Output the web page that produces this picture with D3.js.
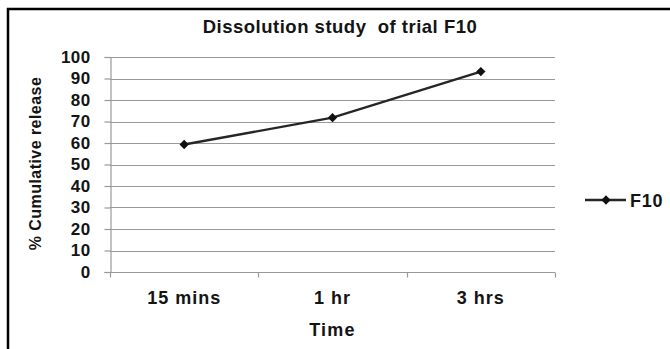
<!DOCTYPE html>
<html>
<head>
<meta charset="utf-8">
<script src="https://cdn.jsdelivr.net/npm/d3@7"></script>
<style>
  html, body { margin: 0; padding: 0; background: #fff; }
  svg { display: block; }
  text { font-family: "Liberation Sans", Arial, sans-serif; font-weight: bold; fill: #141414; }
</style>
</head>
<body>
<script>
// Dissolution data for trial F10
const categories = ["15 mins", "1 hr", "3 hrs"];
const f10Values = [59.3, 71.8, 93.2];
const yTicks = [0, 10, 20, 30, 40, 50, 60, 70, 80, 90, 100];
const seriesName = "F10";
const chartTitle = "Dissolution study  of trial F10";
const xTitle = "Time";
const yTitle = "% Cumulative release";

const W = 670, H = 349;
const plot = { left: 110, right: 555, top: 57, bottom: 272 };

const svg = d3.select("body").append("svg")
  .attr("width", W).attr("height", H);

// outer frame (only top and left edges fall inside the view)
svg.append("rect")
  .attr("x", 8).attr("y", 9)
  .attr("width", W + 20).attr("height", H + 20)
  .attr("fill", "none").attr("stroke", "#000").attr("stroke-width", 2.5);

const x = d3.scaleBand().domain(categories)
  .range([plot.left, plot.right]).paddingInner(0).paddingOuter(0);
const y = d3.scaleLinear().domain([0, 100]).range([plot.bottom, plot.top]);

// horizontal gridlines
svg.append("g").selectAll("line").data(yTicks.filter(d => d > 0)).join("line")
  .attr("x1", plot.left).attr("x2", plot.right)
  .attr("y1", d => Math.round(y(d)) + 0.5).attr("y2", d => Math.round(y(d)) + 0.5)
  .attr("stroke", "#999").attr("stroke-width", 1.2);

// y axis
const yAxis = svg.append("g")
  .attr("transform", `translate(${plot.left + 0.5},0)`)
  .call(d3.axisLeft(y).tickValues(yTicks).tickSize(6).tickPadding(14));
yAxis.select(".domain").attr("stroke", "#999").attr("stroke-width", 1.2);
yAxis.selectAll(".tick line").attr("stroke", "#999").attr("stroke-width", 1.2);
yAxis.selectAll(".tick text")
  .attr("font-size", 17).attr("font-family", null).attr("fill", "#141414")
  .attr("letter-spacing", 0.4);

// x axis with category boundary ticks
const xAxisG = svg.append("g")
  .attr("transform", `translate(0,${Math.round(plot.bottom) + 0.5})`);
xAxisG.append("line")
  .attr("x1", plot.left).attr("x2", plot.right)
  .attr("stroke", "#999").attr("stroke-width", 1.2);
const bounds = categories.map(c => x(c)).concat([x(categories[categories.length - 1]) + x.bandwidth()]);
xAxisG.selectAll("line.tk").data(bounds).join("line").attr("class", "tk")
  .attr("x1", d => Math.round(d) + 0.5).attr("x2", d => Math.round(d) + 0.5)
  .attr("y1", 0).attr("y2", 5)
  .attr("stroke", "#999").attr("stroke-width", 1.2);
xAxisG.selectAll("text").data(categories).join("text")
  .attr("x", d => x(d) + x.bandwidth() / 2)
  .attr("y", 31)
  .attr("text-anchor", "middle")
  .attr("font-size", 18)
  .attr("letter-spacing", 1)
  .text(d => d);

// axis titles
svg.append("text")
  .attr("x", (plot.left + plot.right) / 2)
  .attr("y", 336)
  .attr("text-anchor", "middle")
  .attr("font-size", 18)
  .attr("letter-spacing", 1.2)
  .text(xTitle);

svg.append("text")
  .attr("transform", `translate(41,${(plot.top + plot.bottom) / 2 - 1}) rotate(-90)`)
  .attr("text-anchor", "middle")
  .attr("font-size", 16)
  .attr("letter-spacing", 0.45)
  .text(yTitle);

// chart title
svg.append("text")
  .attr("x", 340)
  .attr("y", 33)
  .attr("text-anchor", "middle")
  .attr("font-size", 18.5)
  .attr("letter-spacing", 0.5)
  .attr("xml:space", "preserve")
  .style("white-space", "pre")
  .text(chartTitle);

// series line
const pts = categories.map((c, i) => [x(c) + x.bandwidth() / 2, y(f10Values[i])]);
svg.append("path")
  .attr("d", d3.line()(pts))
  .attr("fill", "none").attr("stroke", "#262626").attr("stroke-width", 2.4);

const diamond = d3.symbol().type(d3.symbolDiamond2).size(55);
svg.append("g").selectAll("path").data(pts).join("path")
  .attr("transform", d => `translate(${d[0]},${d[1]})`)
  .attr("d", diamond)
  .attr("fill", "#111");

// legend
const lg = svg.append("g").attr("transform", "translate(585,200)");
lg.append("line").attr("x1", 0).attr("x2", 41)
  .attr("stroke", "#262626").attr("stroke-width", 2.4);
lg.append("path").attr("transform", "translate(21,0)").attr("d", diamond).attr("fill", "#111");
lg.append("text").attr("x", 45).attr("y", 6.5).attr("font-size", 18).attr("letter-spacing", 0.8).text(seriesName);
</script>
</body>
</html>
